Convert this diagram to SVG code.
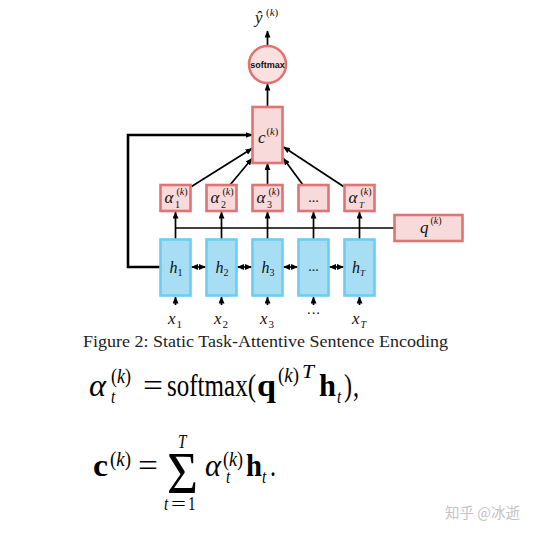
<svg xmlns="http://www.w3.org/2000/svg" width="545" height="535" viewBox="0 0 545 535">
<style>
.pink{fill:#f9dada;stroke:#e07474;stroke-width:2.6}
.blue{fill:#a8def4;stroke:#6ccdf0;stroke-width:2.6}
.ln{fill:none;stroke:#000;stroke-width:1.7}
.thick{fill:none;stroke:#000;stroke-width:2.6}
.m{font-family:"Liberation Serif","Times New Roman",serif;fill:#111}
.i{font-style:italic}
.b{font-weight:bold}
.sm{font-family:"Liberation Sans",Arial,sans-serif;font-weight:bold;font-size:9px;fill:#111}
.cap{font-family:"Liberation Serif","Times New Roman",serif;font-size:17px;fill:#222}
.f{font-family:"Liberation Serif","Times New Roman",serif;fill:#000}
.wm{font-family:"Noto Sans CJK SC","Noto Sans",sans-serif;font-size:14.5px;fill:#c4c4c4}
</style>
<defs>
<marker id="ah" markerWidth="7" markerHeight="6" refX="6.5" refY="3" orient="auto-start-reverse" markerUnits="userSpaceOnUse">
<path d="M0,0 L7,3 L0,6 z" fill="#000"/>
</marker>
</defs>

<g id="connectors">
<line class="ln" x1="267.5" y1="46" x2="267.5" y2="31" marker-end="url(#ah)"/>
<line class="ln" x1="267.5" y1="107" x2="267.5" y2="84" marker-end="url(#ah)"/>
<path class="thick" d="M160,267 H128 V135 H252" marker-end="url(#ah)"/>
<line class="ln" x1="191.5" y1="186.5" x2="252" y2="148.5" marker-end="url(#ah)"/>
<line class="ln" x1="230" y1="185" x2="252" y2="158.5" marker-end="url(#ah)"/>
<line class="ln" x1="267.5" y1="185" x2="267.5" y2="163.5" marker-end="url(#ah)"/>
<line class="ln" x1="303" y1="185" x2="283.5" y2="158.5" marker-end="url(#ah)"/>
<line class="ln" x1="343.5" y1="186.5" x2="283.5" y2="147" marker-end="url(#ah)"/>
<line class="ln" x1="175.5" y1="228" x2="394.5" y2="228"/>
<line class="ln" x1="175.5" y1="239.5" x2="175.5" y2="212" marker-end="url(#ah)"/>
<line class="ln" x1="221.5" y1="239.5" x2="221.5" y2="212" marker-end="url(#ah)"/>
<line class="ln" x1="267.5" y1="239.5" x2="267.5" y2="212" marker-end="url(#ah)"/>
<line class="ln" x1="313.5" y1="239.5" x2="313.5" y2="212" marker-end="url(#ah)"/>
<line class="ln" x1="359.5" y1="239.5" x2="359.5" y2="212" marker-end="url(#ah)"/>
<line class="ln" x1="191.5" y1="267" x2="205.5" y2="267" marker-start="url(#ah)" marker-end="url(#ah)"/>
<line class="ln" x1="237.5" y1="267" x2="251.5" y2="267" marker-start="url(#ah)" marker-end="url(#ah)"/>
<line class="ln" x1="283.5" y1="267" x2="297.5" y2="267" marker-start="url(#ah)" marker-end="url(#ah)"/>
<line class="ln" x1="329.5" y1="267" x2="343.5" y2="267" marker-start="url(#ah)" marker-end="url(#ah)"/>
<line class="ln" x1="175.5" y1="305" x2="175.5" y2="297" marker-end="url(#ah)"/>
<line class="ln" x1="221.5" y1="305" x2="221.5" y2="297" marker-end="url(#ah)"/>
<line class="ln" x1="267.5" y1="305" x2="267.5" y2="297" marker-end="url(#ah)"/>
<line class="ln" x1="313.5" y1="305" x2="313.5" y2="297" marker-end="url(#ah)"/>
<line class="ln" x1="359.5" y1="305" x2="359.5" y2="297" marker-end="url(#ah)"/>
</g>

<g id="yhat">
<text class="m i" x="255" y="23" font-size="17">ŷ</text>
<text class="m" x="266" y="16" font-size="11">(<tspan class="i">k</tspan>)</text>
</g>

<g id="softmax">
<circle class="pink" cx="267.5" cy="64.5" r="18.5" style="fill:#fbe0e0"/>
<text class="sm" x="267.5" y="68" text-anchor="middle">softmax</text>
</g>

<g id="c">
<rect class="pink" x="252.5" y="107" width="30" height="56"/>
<text class="m i" x="258" y="143" font-size="17">c</text>
<text class="m" x="266.5" y="135" font-size="10.5">(<tspan class="i">k</tspan>)</text>
</g>

<g id="alpha1">
<rect class="pink" x="160.5" y="185" width="30" height="26"/>
<text class="m i" x="164.5" y="203" font-size="17">α</text>
<text class="m" x="175" y="208" font-size="10">1</text>
<text class="m" x="176.5" y="195" font-size="10">(<tspan class="i">k</tspan>)</text>
</g>
<g id="alpha2">
<rect class="pink" x="206.5" y="185" width="30" height="26"/>
<text class="m i" x="210.5" y="203" font-size="17">α</text>
<text class="m" x="221" y="208" font-size="10">2</text>
<text class="m" x="222.5" y="195" font-size="10">(<tspan class="i">k</tspan>)</text>
</g>
<g id="alpha3">
<rect class="pink" x="252.5" y="185" width="30" height="26"/>
<text class="m i" x="256.5" y="203" font-size="17">α</text>
<text class="m" x="267" y="208" font-size="10">3</text>
<text class="m" x="268.5" y="195" font-size="10">(<tspan class="i">k</tspan>)</text>
</g>
<g id="alphadots">
<rect class="pink" x="298.5" y="185" width="30" height="26"/>
<text class="m" x="313.5" y="202" font-size="14" text-anchor="middle">...</text>
</g>
<g id="alphaT">
<rect class="pink" x="344.5" y="185" width="30" height="26"/>
<text class="m i" x="348.5" y="203" font-size="17">α</text>
<text class="m i" x="359" y="208" font-size="9">T</text>
<text class="m" x="360.5" y="195" font-size="10">(<tspan class="i">k</tspan>)</text>
</g>

<g id="q">
<rect class="pink" x="394.5" y="215" width="68" height="26"/>
<text class="m i" x="420" y="233" font-size="17">q</text>
<text class="m" x="430.5" y="224" font-size="10">(<tspan class="i">k</tspan>)</text>
</g>

<g id="h1">
<rect class="blue" x="160.5" y="239.5" width="30" height="56"/>
<text class="m i" x="169.5" y="273" font-size="16">h</text>
<text class="m" x="177.5" y="276" font-size="10">1</text>
</g>
<g id="h2">
<rect class="blue" x="206.5" y="239.5" width="30" height="56"/>
<text class="m i" x="215.5" y="273" font-size="16">h</text>
<text class="m" x="223.5" y="276" font-size="10">2</text>
</g>
<g id="h3">
<rect class="blue" x="252.5" y="239.5" width="30" height="56"/>
<text class="m i" x="261.5" y="273" font-size="16">h</text>
<text class="m" x="269.5" y="276" font-size="10">3</text>
</g>
<g id="hdots">
<rect class="blue" x="298.5" y="239.5" width="30" height="56"/>
<text class="m" x="313.5" y="271" font-size="14" text-anchor="middle">...</text>
</g>
<g id="hT">
<rect class="blue" x="344.5" y="239.5" width="30" height="56"/>
<text class="m i" x="352" y="273" font-size="16">h</text>
<text class="m i" x="360" y="276" font-size="9">T</text>
</g>

<g id="inputs">
<text class="m i" x="168" y="324" font-size="17">x</text><text class="m" x="176.5" y="328" font-size="11">1</text>
<text class="m i" x="214" y="324" font-size="17">x</text><text class="m" x="222.5" y="328" font-size="11">2</text>
<text class="m i" x="260" y="324" font-size="17">x</text><text class="m" x="268.5" y="328" font-size="11">3</text>
<text class="m" x="313.5" y="318" font-size="14" text-anchor="middle">···</text>
<text class="m i" x="352" y="324" font-size="17">x</text><text class="m i" x="360.5" y="328" font-size="10">T</text>
</g>

<text class="cap" x="83" y="347" textLength="365" lengthAdjust="spacingAndGlyphs">Figure 2: Static Task-Attentive Sentence Encoding</text>

<g id="eq1" class="f" transform="translate(0,396) scale(1,1.3)">
<text class="i" x="89" y="0" font-size="24" textLength="17" lengthAdjust="spacingAndGlyphs">α</text>
<text x="111" y="-10" font-size="16" textLength="20" lengthAdjust="spacingAndGlyphs">(<tspan class="i">k</tspan>)</text>
<text class="i" x="111" y="5" font-size="15">t</text>
<text x="143" y="0" font-size="24" textLength="20" lengthAdjust="spacingAndGlyphs">=</text>
<text x="167" y="0" font-size="24" textLength="89" lengthAdjust="spacingAndGlyphs">softmax(</text>
<text class="b" x="257" y="0" font-size="24" textLength="19" lengthAdjust="spacingAndGlyphs">q</text>
<text x="278" y="-11" font-size="16" textLength="21" lengthAdjust="spacingAndGlyphs">(<tspan class="i">k</tspan>)</text>
<text class="i" x="302" y="-14" font-size="15" textLength="12" lengthAdjust="spacingAndGlyphs">T</text>
<text class="b" x="319" y="0" font-size="24" textLength="17" lengthAdjust="spacingAndGlyphs">h</text>
<text class="i" x="337" y="5" font-size="15">t</text>
<text x="344" y="0" font-size="24" textLength="8" lengthAdjust="spacingAndGlyphs">)</text>
<text x="353" y="0" font-size="24">,</text>
</g>

<g id="eq2" class="f" transform="translate(0,476) scale(1,1.3)">
<text class="b" x="93" y="0" font-size="24" textLength="15" lengthAdjust="spacingAndGlyphs">c</text>
<text x="110" y="-8" font-size="16" textLength="21" lengthAdjust="spacingAndGlyphs">(<tspan class="i">k</tspan>)</text>
<text x="138" y="0" font-size="24" textLength="20" lengthAdjust="spacingAndGlyphs">=</text>
<text x="167" y="13" font-size="46" textLength="31" lengthAdjust="spacingAndGlyphs">Σ</text>
<text class="i" x="178" y="-21.5" font-size="15">T</text>
<text class="i" x="164" y="26.5" font-size="15">t</text>
<text x="171" y="26.5" font-size="15" textLength="15" lengthAdjust="spacingAndGlyphs">=</text>
<text x="188" y="26.5" font-size="15">1</text>
<text class="i" x="205" y="0" font-size="24" textLength="16" lengthAdjust="spacingAndGlyphs">α</text>
<text x="223" y="-8" font-size="16" textLength="20" lengthAdjust="spacingAndGlyphs">(<tspan class="i">k</tspan>)</text>
<text class="i" x="226" y="5" font-size="15">t</text>
<text class="b" x="246" y="0" font-size="24" textLength="16" lengthAdjust="spacingAndGlyphs">h</text>
<text class="i" x="262" y="5" font-size="15">t</text>
<text x="270" y="0" font-size="24">.</text>
</g>

<text class="wm" x="445" y="518">知乎 @冰逝</text>
</svg>
